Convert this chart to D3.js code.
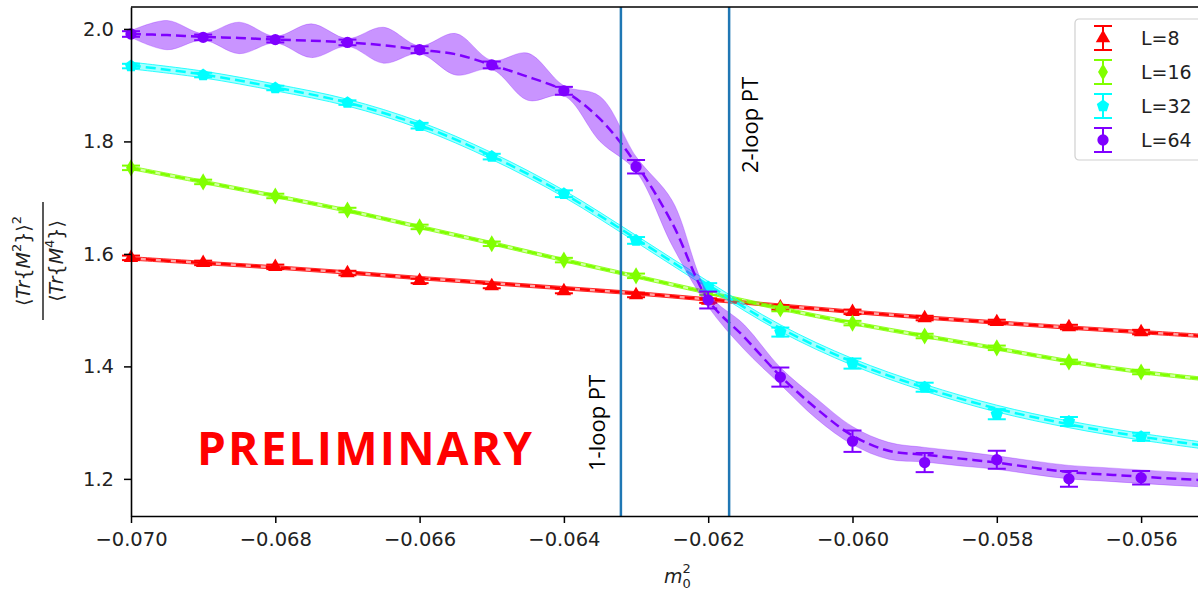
<!DOCTYPE html>
<html>
<head>
<meta charset="utf-8">
<script src="https://cdn.jsdelivr.net/npm/d3@7"></script>
<style>
  body { margin: 0; background: #fff; }
  svg { display: block; font-family: "DejaVu Sans", sans-serif; }
</style>
</head>
<body>
<div id="chart"></div>
<script>
// measured points (m0^2 values)
const xs = [-0.070, -0.069, -0.068, -0.067, -0.066, -0.065, -0.064, -0.063, -0.062, -0.061, -0.060, -0.059, -0.058, -0.057, -0.056];

const data8  = [1.593, 1.584, 1.577, 1.566, 1.552, 1.543, 1.534, 1.527, 1.517, 1.505, 1.497, 1.486, 1.479, 1.470, 1.461];
const data16 = [1.753, 1.728, 1.703, 1.678, 1.648, 1.618, 1.589, 1.561, 1.531, 1.502, 1.477, 1.454, 1.433, 1.408, 1.390];
const data32 = [1.934, 1.918, 1.895, 1.869, 1.828, 1.773, 1.707, 1.624, 1.541, 1.461, 1.405, 1.363, 1.315, 1.302, 1.275];
const data64 = [1.991, 1.985, 1.981, 1.976, 1.963, 1.936, 1.890, 1.755, 1.518, 1.381, 1.267, 1.229, 1.234, 1.200, 1.202];

const err8  = [0.004, 0.004, 0.004, 0.004, 0.004, 0.004, 0.004, 0.004, 0.004, 0.004, 0.004, 0.004, 0.004, 0.004, 0.004];
const err16 = [0.004, 0.004, 0.004, 0.004, 0.004, 0.004, 0.004, 0.004, 0.004, 0.004, 0.004, 0.004, 0.004, 0.004, 0.004];
const err32 = [0.004, 0.004, 0.004, 0.004, 0.005, 0.005, 0.006, 0.006, 0.007, 0.008, 0.009, 0.008, 0.009, 0.008, 0.007];
const err64 = [0.005, 0.005, 0.005, 0.005, 0.006, 0.006, 0.007, 0.012, 0.015, 0.017, 0.019, 0.017, 0.016, 0.014, 0.012];

// fitted curves (coarse grid for L=8,16,32)
const fitX = [-0.070, -0.069, -0.068, -0.067, -0.066, -0.065, -0.064, -0.063, -0.062, -0.061, -0.060, -0.059, -0.058, -0.057, -0.056, -0.055];
const fit8  = [1.592, 1.584, 1.576, 1.567, 1.557, 1.548, 1.539, 1.530, 1.519, 1.508, 1.497, 1.487, 1.478, 1.469, 1.461, 1.453];
const fit16 = [1.753, 1.728, 1.703, 1.677, 1.648, 1.619, 1.589, 1.560, 1.531, 1.503, 1.477, 1.454, 1.432, 1.409, 1.390, 1.376];
const fit32 = [1.935, 1.919, 1.896, 1.869, 1.829, 1.774, 1.707, 1.627, 1.545, 1.468, 1.408, 1.362, 1.325, 1.297, 1.275, 1.257];
const band8  = [0.003, 0.003, 0.003, 0.003, 0.003, 0.003, 0.003, 0.003, 0.003, 0.003, 0.003, 0.003, 0.003, 0.003, 0.003, 0.003];
const band16 = [0.003, 0.003, 0.003, 0.003, 0.003, 0.003, 0.003, 0.003, 0.003, 0.003, 0.003, 0.003, 0.003, 0.003, 0.003, 0.003];
const band32 = [0.006, 0.006, 0.006, 0.006, 0.006, 0.006, 0.006, 0.006, 0.006, 0.006, 0.006, 0.006, 0.006, 0.006, 0.006, 0.006];

// L=64 fit on a finer grid (band pinches at the data points)
const fitX64 = [-0.0700, -0.0695, -0.0690, -0.0685, -0.0680, -0.0675, -0.0670, -0.0665, -0.0660, -0.0655,
                -0.0650, -0.0645, -0.0640, -0.0635, -0.0630, -0.0625, -0.0620, -0.0615, -0.0610, -0.0605,
                -0.0600, -0.0595, -0.0590, -0.0585, -0.0580, -0.0575, -0.0570, -0.0565, -0.0560, -0.0555, -0.0550];
const fit64 = [1.991, 1.989, 1.986, 1.984, 1.981, 1.979, 1.976, 1.971, 1.963, 1.955,
               1.936, 1.915, 1.890, 1.840, 1.760, 1.655, 1.518, 1.452, 1.383, 1.325,
               1.277, 1.250, 1.243, 1.236, 1.229, 1.220, 1.212, 1.208, 1.204, 1.200, 1.197];
const band64 = [0.006, 0.026, 0.006, 0.028, 0.006, 0.030, 0.007, 0.032, 0.007, 0.037,
                0.008, 0.042, 0.009, 0.040, 0.013, 0.040, 0.012, 0.022, 0.015, 0.018,
                0.016, 0.015, 0.013, 0.013, 0.012, 0.012, 0.012, 0.012, 0.012, 0.012, 0.012];

const xTicks = [-0.070, -0.068, -0.066, -0.064, -0.062, -0.060, -0.058, -0.056];
const yTicks = [1.2, 1.4, 1.6, 1.8, 2.0];
const oneLoop = -0.06321;
const twoLoop = -0.06171;

const labels = ["L=8", "L=16", "L=32", "L=64"];
const colors = ["#ff0000", "#80ff00", "#00ffff", "#7f00ff"];

const width = 1198;
const height = 594;
const margin = { top: 7, left: 131, bottom: 78 };

// pentagon marker (matplotlib "p")
const symbolPentagon = {
  draw(context, size) {
    const r = Math.sqrt(size / 2.378);
    for (let i = 0; i < 5; i++) {
      const a = -Math.PI / 2 + i * 2 * Math.PI / 5;
      if (i === 0) context.moveTo(r * Math.cos(a), r * Math.sin(a));
      else context.lineTo(r * Math.cos(a), r * Math.sin(a));
    }
    context.closePath();
  }
};

const series = [
  { name: labels[0], color: colors[0], vals: data8,  err: err8,  fx: fitX,   fit: fit8,  band: band8,  sym: d3.symbolTriangle, size: 90,  bandOp: 0.35 },
  { name: labels[1], color: colors[1], vals: data16, err: err16, fx: fitX,   fit: fit16, band: band16, sym: d3.symbolDiamond,  size: 85,  bandOp: 0.35 },
  { name: labels[2], color: colors[2], vals: data32, err: err32, fx: fitX,   fit: fit32, band: band32, sym: symbolPentagon,    size: 100, bandOp: 0.35 },
  { name: labels[3], color: colors[3], vals: data64, err: err64, fx: fitX64, fit: fit64, band: band64, sym: d3.symbolCircle,   size: 100, bandOp: 0.42 }
];

const svg = d3.select("#chart").append("svg")
  .attr("width", width)
  .attr("height", height);

const x = d3.scaleLinear()
  .domain([-0.070, -0.055])
  .range([margin.left, margin.left + 0.015 * 72150]);

const y = d3.scaleLinear()
  .domain([1.134, 2.039])
  .range([height - margin.bottom, margin.top]);

// series: band, dashed fit, error bars, markers
series.forEach((s) => {
  const pts = s.fx.map((v, i) => ({ x: v, c: s.fit[i], h: s.band[i] }));

  svg.append("path")
    .datum(pts)
    .attr("d", d3.area()
      .x((d) => x(d.x))
      .y0((d) => y(d.c - d.h))
      .y1((d) => y(d.c + d.h))
      .curve(d3.curveCatmullRom))
    .attr("fill", s.color)
    .attr("fill-opacity", s.bandOp)
    .attr("stroke", s.color)
    .attr("stroke-opacity", s.name === "L=64" ? 0.25 : 0.8)
    .attr("stroke-width", 1);

  svg.append("path")
    .datum(pts)
    .attr("d", d3.line()
      .x((d) => x(d.x))
      .y((d) => y(d.c))
      .curve(d3.curveCatmullRom))
    .attr("fill", "none")
    .attr("stroke", s.color)
    .attr("stroke-width", 2.5)
    .attr("stroke-dasharray", "10,5");

  const pd = xs.map((v, i) => ({ x: v, v: s.vals[i], e: s.err[i] }));
  const eb = svg.append("g").attr("stroke", s.color).attr("stroke-width", 2);
  eb.selectAll(".bar").data(pd).enter().append("line")
    .attr("x1", (d) => x(d.x)).attr("x2", (d) => x(d.x))
    .attr("y1", (d) => y(d.v - d.e)).attr("y2", (d) => y(d.v + d.e));
  eb.selectAll(".capTop").data(pd).enter().append("line")
    .attr("x1", (d) => x(d.x) - 9).attr("x2", (d) => x(d.x) + 9)
    .attr("y1", (d) => y(d.v + d.e)).attr("y2", (d) => y(d.v + d.e));
  eb.selectAll(".capBot").data(pd).enter().append("line")
    .attr("x1", (d) => x(d.x) - 9).attr("x2", (d) => x(d.x) + 9)
    .attr("y1", (d) => y(d.v - d.e)).attr("y2", (d) => y(d.v - d.e));

  svg.append("g").selectAll("path").data(pd).enter().append("path")
    .attr("d", d3.symbol().type(s.sym).size(s.size))
    .attr("transform", (d) => `translate(${x(d.x)},${y(d.v)})`)
    .attr("fill", s.color);
});

// perturbation theory lines
[oneLoop, twoLoop].forEach((v) => {
  svg.append("line")
    .attr("x1", x(v)).attr("x2", x(v))
    .attr("y1", y(2.039)).attr("y2", y(1.134))
    .attr("stroke", "#1f77b4")
    .attr("stroke-width", 2.5);
});

svg.append("text")
  .attr("transform", `translate(${x(oneLoop) - 16},471) rotate(-90)`)
  .attr("font-family", "Open Sans")
  .attr("font-size", 22)
  .text("1-loop PT");

svg.append("text")
  .attr("transform", `translate(${x(twoLoop) + 29},173) rotate(-90)`)
  .attr("font-family", "Open Sans")
  .attr("font-size", 22)
  .text("2-loop PT");

svg.append("text")
  .attr("x", 197)
  .attr("y", 465)
  .attr("font-family", "Open Sans")
  .attr("font-weight", "bold")
  .attr("font-size", 46)
  .attr("textLength", 335)
  .attr("fill", "#ff0000")
  .text("PRELIMINARY");

// axes
const xAxis = svg.append("g")
  .attr("transform", `translate(0,${height - margin.bottom})`)
  .call(d3.axisBottom(x).tickValues(xTicks).tickFormat(d3.format(".3f")).tickSize(7).tickPadding(9).tickSizeOuter(0));
const yAxis = svg.append("g")
  .attr("transform", `translate(${margin.left},0)`)
  .call(d3.axisLeft(y).tickValues(yTicks).tickFormat(d3.format(".1f")).tickSize(7).tickPadding(10).tickSizeOuter(0));

[xAxis, yAxis].forEach((a) => {
  a.select(".domain").attr("stroke", "#000").attr("stroke-width", 1.6);
  a.selectAll(".tick line").attr("stroke", "#000").attr("stroke-width", 1.5);
  a.selectAll(".tick text").attr("font-family", "DejaVu Sans").attr("font-size", 19.5).attr("fill", "#222");
});

// top spine
svg.append("line")
  .attr("x1", margin.left).attr("x2", width)
  .attr("y1", y(2.039)).attr("y2", y(2.039))
  .attr("stroke", "#000").attr("stroke-width", 1.6);

// x label m_0^2
const xl = svg.append("text")
  .attr("x", 664).attr("y", 583)
  .attr("font-family", "DejaVu Sans")
  .attr("font-size", 19)
  .attr("fill", "#222");
xl.append("tspan").attr("font-style", "italic").text("m");
xl.append("tspan").attr("font-size", 13).attr("dy", -10).text("2");
xl.append("tspan").attr("font-size", 13).attr("dx", -8.3).attr("dy", 15).text("0");

// y label: fraction
const yl = svg.append("g")
  .attr("transform", "translate(43,261) rotate(-90)")
  .attr("font-family", "DejaVu Sans")
  .attr("fill", "#222");
yl.append("line")
  .attr("x1", -59).attr("x2", 59)
  .attr("stroke", "#222").attr("stroke-width", 1.5);

function fracPart(g, yPos, exp, outer) {
  const t = g.append("text")
    .attr("y", yPos)
    .attr("text-anchor", "middle")
    .attr("font-size", 19);
  t.append("tspan").text("\u27E8");
  t.append("tspan").attr("font-style", "italic").text("Tr");
  t.append("tspan").text("{");
  t.append("tspan").attr("font-style", "italic").text("M");
  t.append("tspan").attr("font-size", 13).attr("dy", -9).text(exp);
  t.append("tspan").attr("dy", 9).text("}\u27E9");
  if (outer) t.append("tspan").attr("font-size", 13).attr("dy", -9).text(outer);
}
fracPart(yl, -13, "2", "2");
fracPart(yl, 20, "4", null);

// legend
const lg = svg.append("g").attr("transform", "translate(1075,19)");
lg.append("rect")
  .attr("width", 140).attr("height", 141).attr("rx", 4)
  .attr("fill", "#fff").attr("fill-opacity", 0.8)
  .attr("stroke", "#d0d0d0").attr("stroke-width", 1.2);

series.forEach((s, i) => {
  const row = lg.append("g").attr("transform", `translate(28,${19 + i * 34})`);
  row.append("line").attr("y1", -12).attr("y2", 12).attr("stroke", s.color).attr("stroke-width", 2);
  row.append("line").attr("x1", -9).attr("x2", 9).attr("y1", -12).attr("y2", -12).attr("stroke", s.color).attr("stroke-width", 2);
  row.append("line").attr("x1", -9).attr("x2", 9).attr("y1", 12).attr("y2", 12).attr("stroke", s.color).attr("stroke-width", 2);
  row.append("path").attr("d", d3.symbol().type(s.sym).size(s.size)).attr("fill", s.color);
  row.append("text")
    .attr("x", 38).attr("y", 7)
    .attr("font-family", "DejaVu Sans")
    .attr("font-size", 19)
    .attr("fill", "#222")
    .text(s.name);
});
</script>
</body>
</html>
